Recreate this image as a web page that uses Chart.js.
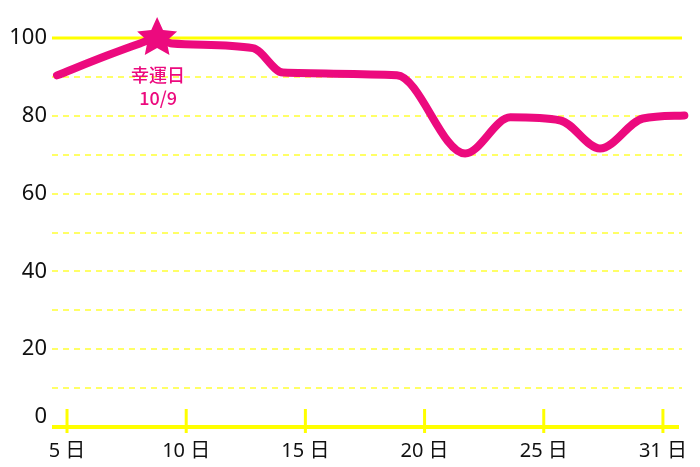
<!DOCTYPE html>
<html>
<head>
<meta charset="utf-8">
<script src="https://cdn.jsdelivr.net/npm/chart.js@4"></script>
<style>
  html, body { margin: 0; padding: 0; background: #fff; }
  #wrap { width: 700px; height: 467px; }
</style>
</head>
<body>
<div id="wrap"><canvas id="c"></canvas></div>
<script>
// data
const days = [4.58, 6.68, 8.06, 8.78, 9.4, 12.8, 14.06, 18.84, 21.7, 23.6, 25.7, 27.36, 29.16, 30.9];
const scores = [90.4, 95.5, 98.6, 100, 98.6, 97.4, 91.1, 90.4, 70.3, 79.6, 78.8, 71.6, 79.3, 80.1];
const xTickDays = [5, 10, 15, 20, 25, 30];
const xTickLabels = ['5 日', '10 日', '15 日', '20 日', '25 日', '31 日'];
const yMin = 0, yMax = 100, yStep = 10;
const luckyDay = 8.78, luckyScore = 100;
const luckyLabel = ['幸運日', '10/9'];

const pink = '#ec0a7e';
const yellow = '#ffff00';
const paleYellow = '#ffff66';
const fontFamily = "'Noto Sans', 'Noto Sans CJK JP', sans-serif";

function drawLine(ctx, x1, y1, x2, y2) {
  ctx.beginPath();
  ctx.moveTo(x1, y1);
  ctx.lineTo(x2, y2);
  ctx.stroke();
}

function drawStar(ctx, cx, cy, outer, inner) {
  ctx.beginPath();
  for (let i = 0; i < 10; i++) {
    const r = i % 2 === 0 ? outer : inner;
    const a = -Math.PI / 2 + i * Math.PI / 5;
    const px = cx + r * Math.cos(a);
    const py = cy + r * Math.sin(a);
    if (i === 0) ctx.moveTo(px, py); else ctx.lineTo(px, py);
  }
  ctx.closePath();
  ctx.fill();
}

// axis line, tick marks, top line, star and its label
const decorations = {
  id: 'decorations',
  beforeDatasetsDraw(chart) {
    const { ctx, chartArea: a, scales: { x, y } } = chart;
    ctx.save();
    ctx.strokeStyle = yellow;
    ctx.lineWidth = 3;
    const yTop = y.getPixelForValue(yMax);
    drawLine(ctx, a.left, yTop, a.right, yTop);

    const y0 = y.getPixelForValue(yMin);
    ctx.lineWidth = 4;
    drawLine(ctx, a.left, y0, a.right - 3, y0);

    ctx.lineWidth = 3;
    x.ticks.forEach(t => {
      const px = x.getPixelForValue(t.value);
      drawLine(ctx, px, y0 - 18, px, y0 + 6);
    });
    ctx.restore();
  },
  afterDatasetsDraw(chart) {
    const { ctx, scales: { x, y } } = chart;
    const sx = x.getPixelForValue(luckyDay);
    const sy = y.getPixelForValue(luckyScore);
    ctx.save();
    ctx.fillStyle = pink;
    drawStar(ctx, sx, sy, 21, 10);
    ctx.font = "500 18px 'Noto Sans CJK JP', 'Noto Sans', sans-serif";
    ctx.textAlign = 'center';
    ctx.textBaseline = 'middle';
    ctx.fillText(luckyLabel[0], sx + 1, sy + 37);
    ctx.fillText(luckyLabel[1], sx + 1, sy + 60);
    ctx.restore();
  }
};

new Chart(document.getElementById('c'), {
  type: 'line',
  data: {
    datasets: [{
      data: days.map((d, i) => ({ x: d, y: scores[i] })),
      borderColor: pink,
      borderWidth: 8,
      borderCapStyle: 'round',
      borderJoinStyle: 'round',
      pointRadius: 0,
      cubicInterpolationMode: 'monotone',
      clip: false
    }]
  },
  options: {
    responsive: true,
    maintainAspectRatio: false,
    animation: false,
    layout: { padding: { top: 38, right: 18, left: 0, bottom: 0 } },
    plugins: { legend: { display: false }, tooltip: { enabled: false } },
    scales: {
      x: {
        type: 'linear',
        min: 4.37,
        max: 30.8,
        afterBuildTicks: scale => { scale.ticks = xTickDays.map(v => ({ value: v })); },
        afterFit: scale => { scale.height = 40; },
        grid: { display: false, drawTicks: false },
        border: { display: false },
        ticks: {
          autoSkip: false,
          maxRotation: 0,
          padding: 12,
          color: '#111',
          font: { family: fontFamily, size: 20 },
          callback: (v, i) => xTickLabels[i]
        }
      },
      y: {
        min: yMin,
        max: yMax,
        afterFit: scale => { scale.width = 52; },
        grid: {
          drawTicks: false,
          lineWidth: 2,
          color: ctx => (ctx.tick.value === yMin || ctx.tick.value === yMax) ? 'rgba(0,0,0,0)' : paleYellow
        },
        border: { display: false, dash: [6, 5] },
        ticks: {
          stepSize: yStep,
          autoSkip: false,
          padding: 5,
          color: '#111',
          font: { family: fontFamily, size: 22, lineHeight: 0.9 },
          callback: v => v % 20 !== 0 ? '' : (v === 0 ? ['0', ''] : String(v))
        }
      }
    }
  },
  plugins: [decorations]
});
</script>
</body>
</html>
